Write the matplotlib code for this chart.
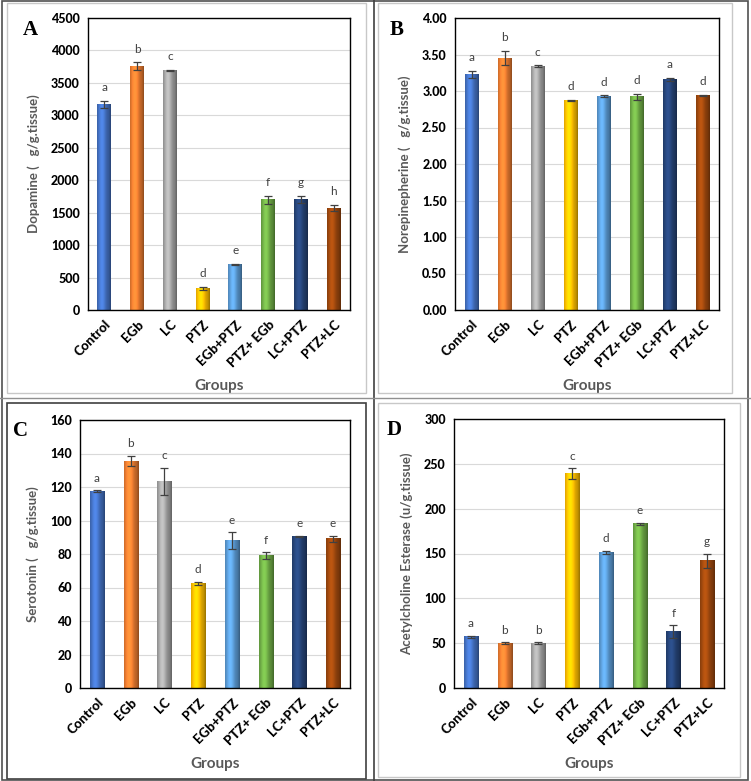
import matplotlib
matplotlib.use("Agg")
import matplotlib.pyplot as plt
import numpy as np
from matplotlib.colors import to_rgb
from matplotlib.patches import Rectangle

plt.rcParams["font.family"] = ["Lato", "DejaVu Sans"]

groups = ["Control", "EGb", "LC", "PTZ", "EGb+PTZ", "PTZ+ EGb", "LC+PTZ", "PTZ+LC"]
colors = ["#4472C4", "#ED7D31", "#A5A5A5", "#FFC000", "#5B9BD5", "#70AD47", "#264478", "#9E480E"]

# panel A - dopamine
dopa = [3170, 3760, 3690, 330, 700, 1700, 1705, 1570]
dopa_err = [50, 55, 10, 25, 10, 60, 50, 50]
dopa_let = ["a", "b", "c", "d", "e", "f", "g", "h"]

# panel B - norepinephrine
nore = [3.23, 3.45, 3.34, 2.87, 2.93, 2.92, 3.16, 2.94]
nore_err = [0.05, 0.10, 0.01, 0.01, 0.01, 0.04, 0.02, 0.01]
nore_let = ["a", "b", "c", "d", "d", "d", "a", "d"]

# panel C - serotonin
sero = [117.5, 135.5, 123.5, 62.5, 88.0, 79.0, 90.5, 89.0]
sero_err = [0.5, 3.0, 8.0, 1.0, 5.0, 2.0, 0.5, 2.0]
sero_let = ["a", "b", "c", "d", "e", "f", "e", "e"]

# panel D - acetylcholine esterase
ache = [57, 50, 50, 239, 151, 183, 63, 142]
ache_err = [1.5, 1.0, 1.0, 6.0, 2.0, 1.0, 7.0, 8.0]
ache_let = ["a", "b", "b", "c", "d", "e", "f", "g"]

W, H = 751, 781
fig = plt.figure(figsize=(W / 100, H / 100), dpi=100)


def px_axes(l, t, r, b):
    return fig.add_axes([l / W, 1 - b / H, (r - l) / W, (b - t) / H])


def shade(base):
    # horizontal gradient to mimic the cylinder look
    c = np.array(to_rgb(base))
    x = np.linspace(0, 1, 40)
    k = 0.75 + 0.45 * np.exp(-((x - 0.35) / 0.3) ** 2)
    k = np.where(x > 0.85, k - 0.15 * (x - 0.85) / 0.15, k)
    img = np.clip(c[None, :] * k[:, None], 0, 1)
    return img[None, :, :]


def panel(ax, vals, errs, lets, ymax, step, fmt, ylabel, tag):
    x = np.arange(len(groups))
    bars = ax.bar(x, vals, width=0.42, color=colors, zorder=2)
    for b, c in zip(bars, colors):
        x0, y0 = b.get_x(), b.get_y()
        ax.imshow(shade(c), extent=(x0, x0 + b.get_width(), y0, y0 + b.get_height()),
                  aspect="auto", zorder=2.5, interpolation="bilinear")
    ax.errorbar(x, vals, yerr=errs, fmt="none", ecolor="#404040", elinewidth=0.9,
                capsize=3, capthick=0.9, zorder=3)
    pad = 0.045 * ymax
    for xi, v, e, l in zip(x, vals, errs, lets):
        ax.text(xi, v + e + pad, l, ha="center", va="center", fontsize=8.5, color="#404040")
    ax.set_xlim(-0.5, len(groups) - 0.5)
    ax.set_ylim(0, ymax)
    ticks = np.arange(0, ymax + step / 2, step)
    ax.set_yticks(ticks)
    ax.set_yticklabels([fmt.format(t) for t in ticks], fontsize=9, fontweight="black")
    ax.set_xticks(x)
    ax.set_xticklabels(groups, rotation=45, ha="right", rotation_mode="anchor",
                       fontsize=9.5, fontweight="black")
    ax.tick_params(length=0, pad=6)
    ax.grid(axis="y", color="#d9d9d9", linewidth=0.8, zorder=0)
    ax.set_axisbelow(True)
    for s in ax.spines.values():
        s.set_linewidth(1.0)
        s.set_color("black")
    ax.set_ylabel(ylabel, fontsize=9.5, color="#595959", fontweight="bold", labelpad=8)
    ax.set_xlabel("Groups", fontsize=11, color="#595959", fontweight="bold", labelpad=7)
    ax.text(-0.22, 0.96, tag, transform=ax.transAxes, fontsize=15, fontweight="bold",
            family="Liberation Serif", ha="center", va="center")


axA = px_axes(88, 18, 350, 310)
panel(axA, dopa, dopa_err, dopa_let, 4500, 500, "{:.0f}", "Dopamine (   g/g.tissue)", "A")
axB = px_axes(455, 18, 719, 310)
panel(axB, nore, nore_err, nore_let, 4.0, 0.5, "{:.2f}", "Norepinepherine (   g/g.tissue)", "B")
axC = px_axes(80, 420, 350, 688)
panel(axC, sero, sero_err, sero_let, 160, 20, "{:.0f}", "Serotonin (   g/g.tissue)", "C")
axD = px_axes(454, 419, 724, 688)
panel(axD, ache, ache_err, ache_let, 300, 50, "{:.0f}", "Acetylcholine Esterase (u/g.tissue)", "D")


# panel frames
def frame(l, t, r, b, color, lw):
    fig.patches.append(Rectangle((l / W, 1 - b / H), (r - l) / W, (b - t) / H,
                                 transform=fig.transFigure, fill=False,
                                 edgecolor=color, linewidth=lw))


frame(7, 3, 366, 393, "#c8c8c8", 1.0)
frame(378, 3, 732, 393, "#c8c8c8", 1.0)
frame(7, 403, 366, 779, "#404040", 1.2)
frame(378, 403, 740, 777, "#c8c8c8", 1.0)
frame(2, 1, 748, 780, "#505050", 1.2)
fig.lines.append(plt.Line2D([374 / W, 374 / W], [0, 1], transform=fig.transFigure,
                            color="#404040", linewidth=1.2))
fig.lines.append(plt.Line2D([0, 1], [1 - 398 / H, 1 - 398 / H], transform=fig.transFigure,
                            color="#909090", linewidth=1.0))

fig.savefig("out.png", dpi=100)
